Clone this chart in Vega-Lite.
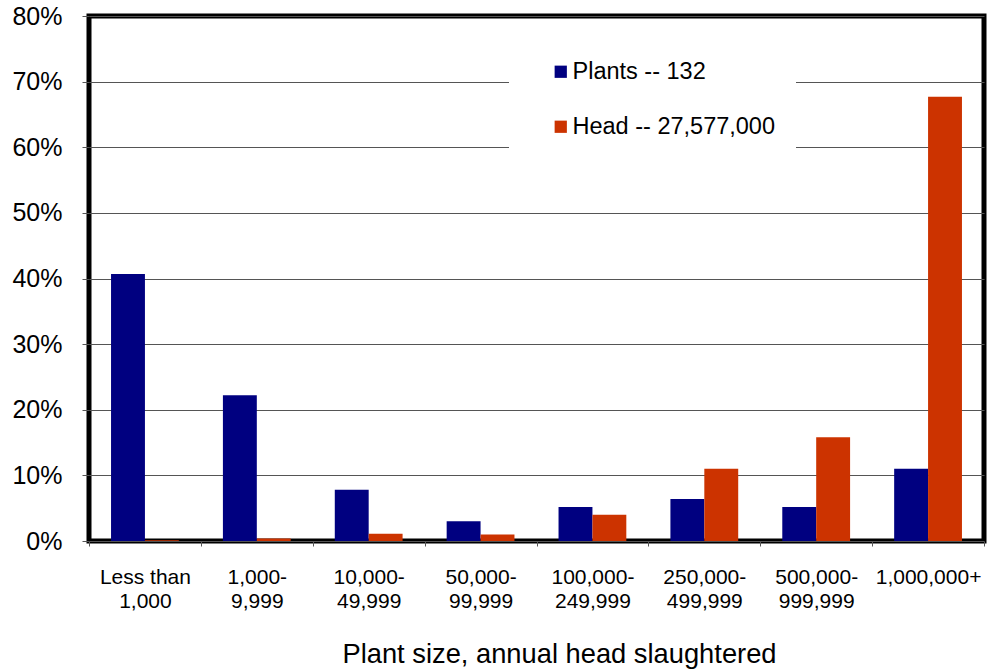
{
  "$schema": "https://vega.github.io/schema/vega-lite/v6.json",
  "width": 895,
  "height": 525,
  "autosize": {"type": "none"},
  "padding": {"left": 89, "top": 16, "right": 12, "bottom": 129},
  "background": "white",
  "config": {
    "view": {"stroke": "black", "strokeWidth": 5},
    "font": "Liberation Sans"
  },
  "data": {
    "values": [
      {"size": "Less than|1,000", "series": "Plants -- 132", "pct": 0.407},
      {"size": "Less than|1,000", "series": "Head -- 27,577,000", "pct": 0.001},
      {"size": "1,000-|9,999", "series": "Plants -- 132", "pct": 0.222},
      {"size": "1,000-|9,999", "series": "Head -- 27,577,000", "pct": 0.004},
      {"size": "10,000-|49,999", "series": "Plants -- 132", "pct": 0.078},
      {"size": "10,000-|49,999", "series": "Head -- 27,577,000", "pct": 0.011},
      {"size": "50,000-|99,999", "series": "Plants -- 132", "pct": 0.030},
      {"size": "50,000-|99,999", "series": "Head -- 27,577,000", "pct": 0.010},
      {"size": "100,000-|249,999", "series": "Plants -- 132", "pct": 0.052},
      {"size": "100,000-|249,999", "series": "Head -- 27,577,000", "pct": 0.040},
      {"size": "250,000-|499,999", "series": "Plants -- 132", "pct": 0.064},
      {"size": "250,000-|499,999", "series": "Head -- 27,577,000", "pct": 0.110},
      {"size": "500,000-|999,999", "series": "Plants -- 132", "pct": 0.052},
      {"size": "500,000-|999,999", "series": "Head -- 27,577,000", "pct": 0.158},
      {"size": "1,000,000+", "series": "Plants -- 132", "pct": 0.110},
      {"size": "1,000,000+", "series": "Head -- 27,577,000", "pct": 0.677}
    ]
  },
  "mark": {"type": "bar"},
  "encoding": {
    "x": {
      "field": "size",
      "type": "nominal",
      "sort": null,
      "scale": {"paddingInner": 0, "paddingOuter": 0},
      "axis": {
        "title": "Plant size, annual head slaughtered",
        "titleFontSize": 27.3,
        "titleFontWeight": "normal",
        "titleColor": "black",
        "titlePadding": 29,
        "titleX": 470,
        "titleAlign": "center",
        "labelFontSize": 21,
        "labelColor": "black",
        "labelAngle": 0,
        "labelExpr": "split(datum.label, '|')",
        "labelLineHeight": 24,
        "labelPadding": 20,
        "tickSize": 5,
        "tickColor": "#555555",
        "tickBand": "extent",
        "domain": false,
        "grid": false
      }
    },
    "xOffset": {
      "field": "series",
      "type": "nominal",
      "sort": ["Plants -- 132", "Head -- 27,577,000"],
      "scale": {"paddingInner": 0, "paddingOuter": 0.65}
    },
    "y": {
      "field": "pct",
      "type": "quantitative",
      "scale": {"domain": [0, 0.8], "nice": false},
      "axis": {
        "title": null,
        "values": [0, 0.1, 0.2, 0.3, 0.4, 0.5, 0.6, 0.7, 0.8],
        "format": ".0%",
        "labelFontSize": 25,
        "labelColor": "black",
        "labelPadding": 20,
        "tickSize": 7,
        "tickColor": "#555555",
        "gridColor": "#555555",
        "gridWidth": 1,
        "domain": false
      }
    },
    "color": {
      "field": "series",
      "type": "nominal",
      "sort": ["Plants -- 132", "Head -- 27,577,000"],
      "scale": {"domain": ["Plants -- 132", "Head -- 27,577,000"], "range": ["#000080", "#CC3300"]},
      "legend": {
        "title": null,
        "orient": "none",
        "legendX": 420,
        "legendY": 24,
        "fillColor": "white",
        "padding": 20,
        "symbolType": "square",
        "symbolSize": 150,
        "symbolStrokeWidth": 0,
        "symbolOffset": 20,
        "labelFontSize": 23.5,
        "labelColor": "black",
        "labelOffset": 0,
        "labelLimit": 500,
        "rowPadding": 30
      }
    }
  }
}
